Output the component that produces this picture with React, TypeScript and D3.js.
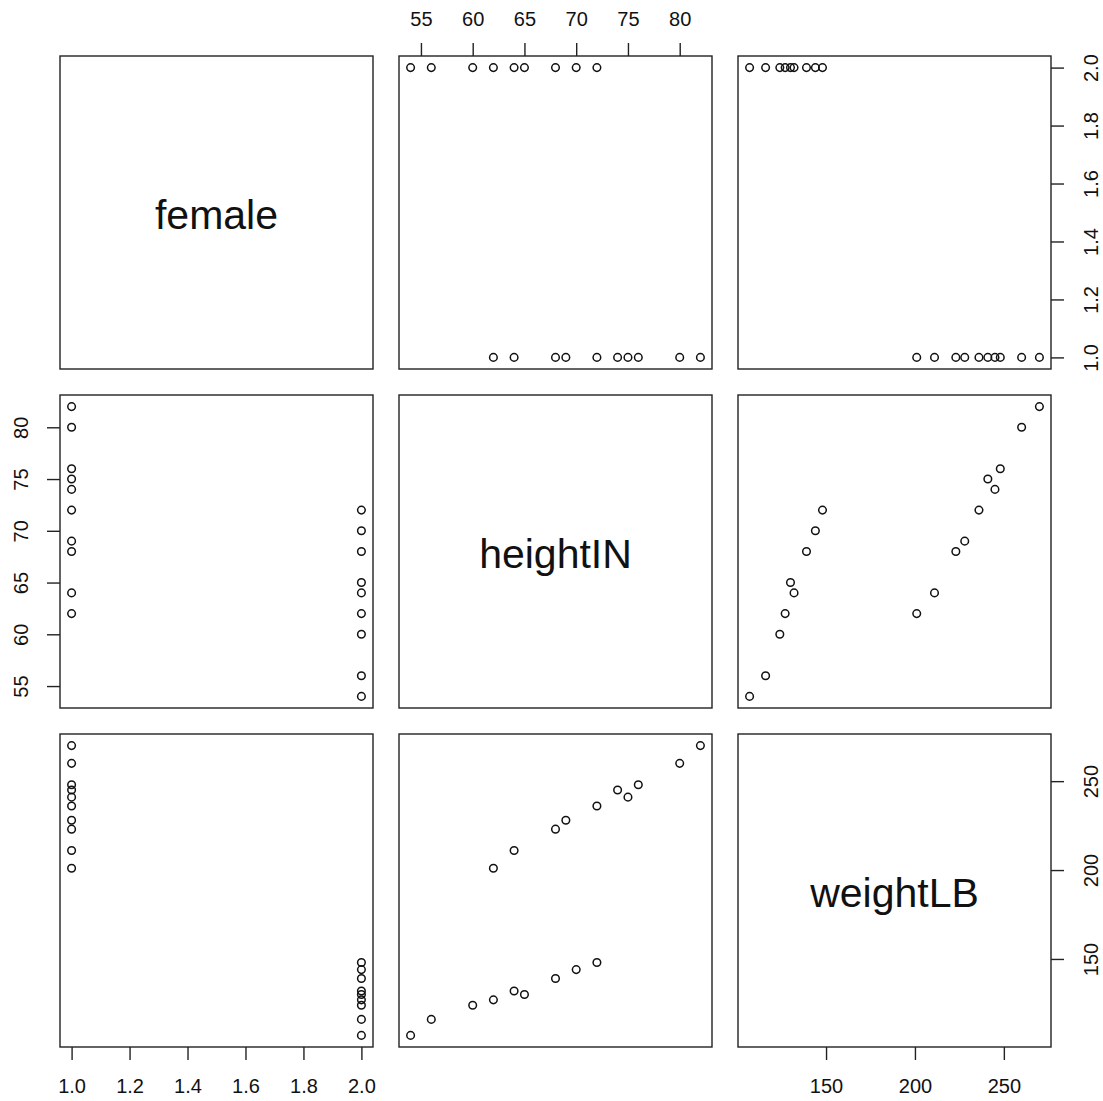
import React, { useRef, useEffect } from "react";
import * as d3 from "d3";

// one row per person
const female = [1, 1, 1, 1, 1, 1, 1, 1, 1, 1, 2, 2, 2, 2, 2, 2, 2, 2, 2];
const heightIN = [82, 80, 76, 75, 74, 72, 69, 68, 64, 62, 72, 70, 68, 65, 64, 62, 60, 56, 54];
const weightLB = [270, 260, 248, 241, 245, 236, 228, 223, 211, 201, 148, 144, 139, 130, 132, 127, 124, 116, 107];

const varNames = ["female", "heightIN", "weightLB"];
const femaleTicks = [1.0, 1.2, 1.4, 1.6, 1.8, 2.0];
const heightTicks = [55, 60, 65, 70, 75, 80];
const weightTicks = [150, 200, 250];

const App = () => {
  const svgRef = useRef<SVGSVGElement>(null);

  useEffect(() => {
    const width = 1103;
    const height = 1101;
    const size = 313;
    const colX = [60, 399, 738];
    const rowY = [56, 395, 734];
    const font = "'Liberation Sans', Arial, sans-serif";

    const vars = [female, heightIN, weightLB];
    const ticks = [femaleTicks, heightTicks, weightTicks];
    const fmts = [d3.format(".1f"), d3.format("d"), d3.format("d")];

    // R-style range: data extent padded by 4% each side
    const padded = (v: number[]) => {
      const [a, b] = d3.extent(v) as [number, number];
      const p = (b - a) * 0.04;
      return [a - p, b + p];
    };

    const xScales = vars.map((v, j) =>
      d3.scaleLinear().domain(padded(v)).range([colX[j], colX[j] + size])
    );
    const yScales = vars.map((v, i) =>
      d3.scaleLinear().domain(padded(v)).range([rowY[i] + size, rowY[i]])
    );

    d3.select(svgRef.current).selectAll("*").remove();

    const svg = d3
      .select(svgRef.current)
      .attr("width", width)
      .attr("height", height)
      .attr("viewBox", [0, 0, width, height])
      .style("font-family", font);

    svg.append("rect").attr("width", width).attr("height", height).attr("fill", "white");

    const n = vars.length;
    for (let i = 0; i < n; i++) {
      for (let j = 0; j < n; j++) {
        const g = svg.append("g");
        if (i === j) {
          g.append("text")
            .attr("x", colX[j] + size / 2)
            .attr("y", rowY[i] + size / 2 + 2)
            .attr("dy", "0.35em")
            .attr("text-anchor", "middle")
            .attr("font-size", 41)
            .attr("fill", "#111")
            .text(varNames[i]);
        } else {
          const xs = vars[j];
          const ys = vars[i];
          g.selectAll("circle")
            .data(d3.range(xs.length))
            .join("circle")
            .attr("cx", (k) => xScales[j](xs[k]))
            .attr("cy", (k) => yScales[i](ys[k]))
            .attr("r", 3.8)
            .attr("fill", "none")
            .attr("stroke", "#111")
            .attr("stroke-width", 1.5);
        }
        g.append("rect")
          .attr("x", colX[j])
          .attr("y", rowY[i])
          .attr("width", size)
          .attr("height", size)
          .attr("fill", "none")
          .attr("stroke", "#222")
          .attr("stroke-width", 1.4);
      }
    }

    const tickLen = 13;
    const styleAxis = (sel: any) => {
      sel.select(".domain").remove();
      sel.selectAll(".tick line").attr("stroke", "#222").attr("stroke-width", 1.4);
      sel.selectAll(".tick text").attr("fill", "#111").attr("font-size", 20).attr("font-family", font);
    };

    // top axes: even columns (R 1-based) on first row
    for (let j = 1; j < n; j += 2) {
      svg.append("g")
        .attr("transform", `translate(0,${rowY[0]})`)
        .call(
          d3.axisTop(xScales[j]).tickValues(ticks[j]).tickFormat(fmts[j] as any)
            .tickSizeOuter(0).tickSizeInner(tickLen).tickPadding(17)
        )
        .call(styleAxis);
    }
    // bottom axes: odd columns on last row
    for (let j = 0; j < n; j += 2) {
      svg.append("g")
        .attr("transform", `translate(0,${rowY[n - 1] + size})`)
        .call(
          d3.axisBottom(xScales[j]).tickValues(ticks[j]).tickFormat(fmts[j] as any)
            .tickSizeOuter(0).tickSizeInner(tickLen).tickPadding(19)
        )
        .call(styleAxis);
    }
    // left axes: even rows on first column, labels parallel to axis
    for (let i = 1; i < n; i += 2) {
      svg.append("g")
        .attr("transform", `translate(${colX[0]},0)`)
        .call(
          d3.axisLeft(yScales[i]).tickValues(ticks[i]).tickFormat(fmts[i] as any)
            .tickSizeOuter(0).tickSizeInner(tickLen)
        )
        .call(styleAxis)
        .call((a) =>
          a.selectAll(".tick text")
            .attr("x", null)
            .attr("dy", null)
            .attr("text-anchor", "middle")
            .attr("dominant-baseline", "central")
            .attr("transform", "translate(-39,0) rotate(-90)")
        );
    }
    // right axes: odd rows on last column
    for (let i = 0; i < n; i += 2) {
      svg.append("g")
        .attr("transform", `translate(${colX[n - 1] + size},0)`)
        .call(
          d3.axisRight(yScales[i]).tickValues(ticks[i]).tickFormat(fmts[i] as any)
            .tickSizeOuter(0).tickSizeInner(tickLen)
        )
        .call(styleAxis)
        .call((a) =>
          a.selectAll(".tick text")
            .attr("x", null)
            .attr("dy", null)
            .attr("text-anchor", "middle")
            .attr("dominant-baseline", "central")
            .attr("transform", "translate(40,0) rotate(-90)")
        );
    }
  }, []);

  return (
    <svg
      ref={svgRef}
      style={{ position: "absolute", left: 0, top: 0, display: "block" }}
    ></svg>
  );
};

export default App;
